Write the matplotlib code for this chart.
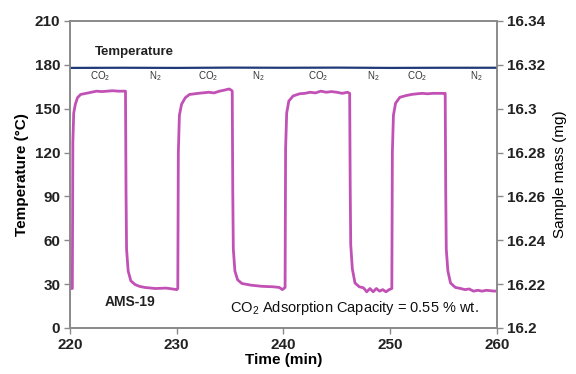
import numpy as np
import matplotlib
matplotlib.use('Agg')
import matplotlib.pyplot as plt

plt.rcParams['font.family'] = ['Liberation Sans', 'DejaVu Sans']
plt.rcParams['mathtext.default'] = 'regular'

# TGA run: sample mass (mg) vs time (min), CO2 / N2 switching
time = [220.0, 220.22, 220.27, 220.35, 220.5, 220.7, 221.0, 221.5, 222.0, 222.5, 223.0, 223.5, 224.0, 224.5, 225.0, 225.2,
        225.25, 225.3, 225.45, 225.7, 226.1, 226.5, 227.0, 228.0, 229.0, 229.6, 230.0, 230.1,
        230.15, 230.25, 230.45, 230.8, 231.2, 232.0, 233.0, 233.5, 234.0, 234.5, 234.9, 235.1, 235.2,
        235.25, 235.3, 235.45, 235.7, 236.1, 237.0, 238.0, 239.0, 239.6, 239.9, 240.15,
        240.2, 240.3, 240.5, 240.9, 241.5, 242.0, 242.5, 243.0, 243.5, 244.0, 244.5, 245.0, 245.5, 246.0, 246.2,
        246.25, 246.3, 246.45, 246.7, 247.1, 247.5, 247.8, 248.1, 248.4, 248.7, 249.0, 249.3, 249.6, 249.9, 250.15,
        250.2, 250.3, 250.5, 250.9, 251.5, 252.0, 252.5, 253.0, 253.5, 254.0, 254.5, 255.0, 255.15,
        255.2, 255.25, 255.4, 255.65, 256.1, 256.6, 257.0, 257.4, 257.8, 258.2, 258.6, 259.0, 259.4, 259.8, 260.0]
mass = [16.218, 16.218, 16.285, 16.298, 16.302, 16.305, 16.3065, 16.307, 16.3075, 16.308, 16.3078, 16.308, 16.3082, 16.308, 16.308, 16.308,
        16.262, 16.236, 16.226, 16.2215, 16.2198, 16.219, 16.2185, 16.218, 16.2182, 16.2178, 16.2175, 16.218,
        16.28, 16.297, 16.302, 16.305, 16.3065, 16.307, 16.3075, 16.3072, 16.308, 16.3085, 16.309, 16.3085, 16.308,
        16.262, 16.236, 16.226, 16.222, 16.2203, 16.2195, 16.219, 16.2188, 16.2185, 16.2175, 16.2185,
        16.282, 16.298, 16.3035, 16.3058, 16.3068, 16.307, 16.3075, 16.3072, 16.308, 16.3075, 16.3078, 16.3075, 16.307, 16.3075, 16.307,
        16.265, 16.238, 16.227, 16.2205, 16.2188, 16.2183, 16.2165, 16.218, 16.2165, 16.218, 16.2168, 16.2175, 16.2165, 16.2175, 16.218,
        16.28, 16.297, 16.3025, 16.3052, 16.306, 16.3065, 16.3068, 16.307, 16.3068, 16.307, 16.307, 16.307, 16.307,
        16.262, 16.236, 16.226, 16.2205, 16.2185, 16.218, 16.2175, 16.2178, 16.2168, 16.2172, 16.2168, 16.2172, 16.217, 16.2168, 16.217]

temp_time = [220, 225, 230, 235, 240, 245, 250, 255, 260]
temp = [177.9, 178.0, 177.9, 178.1, 178.0, 178.1, 177.9, 178.0, 178.0]

gas_labels = ['CO$_2$', 'N$_2$', 'CO$_2$', 'N$_2$', 'CO$_2$', 'N$_2$', 'CO$_2$', 'N$_2$']
gas_pos = [222.8, 228.0, 232.9, 237.6, 243.2, 248.4, 252.5, 258.1]

grey = '#8a8a8a'
fig = plt.figure(figsize=(5.76, 3.74), dpi=100)
ax = fig.add_axes([0.1215, 0.123, 0.7413, 0.8209])
ax2 = ax.twinx()

ax.plot(temp_time, temp, color='#1f3a78', lw=1.6, zorder=3)
ax2.plot(time, mass, color='#c151b4', lw=2.0)

ax.set_xlim(220, 260)
ax.set_ylim(0, 210)
ax.set_xticks(np.arange(220, 261, 10))
ax.set_yticks(np.arange(0, 211, 30))
ax2.set_ylim(16.2, 16.34)
ax2.set_yticks([16.2, 16.22, 16.24, 16.26, 16.28, 16.3, 16.32, 16.34])
ax2.set_yticklabels(['16.2', '16.22', '16.24', '16.26', '16.28', '16.3', '16.32', '16.34'])

for a in (ax, ax2):
    for s in a.spines.values():
        s.set_color(grey)
        s.set_linewidth(1.2)
    a.tick_params(direction='out', length=4, width=1, color=grey, labelsize=11, pad=3)
    for lab in a.get_xticklabels() + a.get_yticklabels():
        lab.set_fontweight('bold')
        lab.set_color('#222222')

ax.set_xlabel('Time (min)', fontsize=11, fontweight='bold', labelpad=1)
ax.set_ylabel('Temperature (°C)', fontsize=11, fontweight='bold', labelpad=4)
ax2.set_ylabel('Sample mass (mg)', fontsize=11, labelpad=6)

ax.text(226.0, 189, 'Temperature', fontsize=9.5, fontweight='bold', ha='center', va='center', color='#222222')
for lab, x in zip(gas_labels, gas_pos):
    ax.text(x, 172.5, lab, fontsize=7, ha='center', va='center', color='#333333')
ax.text(225.6, 18, 'AMS-19', fontsize=10, fontweight='bold', ha='center', va='center', color='#222222')
ax.text(246.6, 14, 'CO$_2$ Adsorption Capacity = 0.55 % wt.', fontsize=10.5, ha='center', va='center', color='#111111')

fig.savefig('out.png', dpi=100)
